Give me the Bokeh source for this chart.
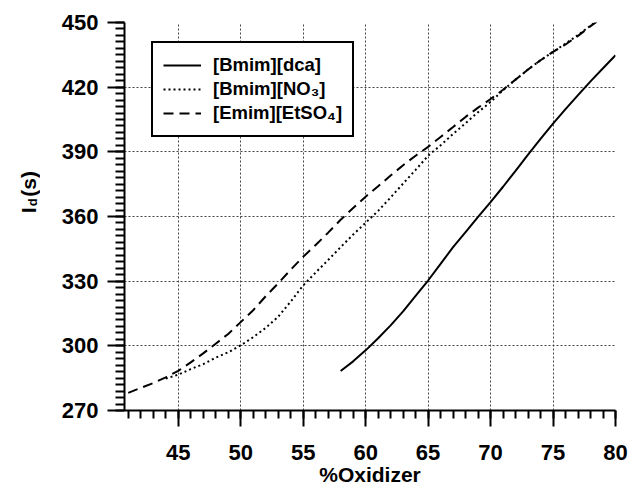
from math import pi
from bokeh.plotting import figure
from bokeh.models import Range1d, SingleIntervalTicker, Legend, LegendItem
from bokeh.layouts import row
from bokeh.core.properties import value
from bokeh.embed import file_html
from bokeh.resources import INLINE

# ---- data ----
x_dca = [58, 59, 60, 61, 62, 63, 64, 65, 66, 67, 68, 69, 70, 71, 72, 73, 74, 75, 76, 77, 78, 79, 80]
y_dca = [288.3, 292.8, 297.9, 303.5, 309.5, 316.0, 323.2, 330.3, 338.0, 345.8, 352.8, 359.8,
         366.7, 373.8, 381.2, 388.7, 396.0, 403.1, 409.8, 416.3, 422.7, 428.8, 434.8]

x_no3 = [44, 45, 46, 47, 48, 49, 50, 51, 52, 53, 54, 55, 56, 57, 58, 59, 60, 61, 62, 63, 64, 65,
         66, 67, 68, 69, 70, 71, 72, 73, 74, 75, 76, 77, 78, 78.5]
y_no3 = [284.8, 286.6, 289.2, 291.5, 294.5, 297.0, 300.2, 304.0, 308.3, 313.5, 320.5, 328.0,
         334.0, 339.8, 345.8, 351.6, 357.1, 362.6, 368.8, 375.3, 381.6, 388.2, 393.0, 398.3,
         403.3, 408.4, 413.1, 418.6, 423.5, 428.2, 432.5, 436.4, 440.2, 444.2, 448.5, 450.6]

x_et = [41, 42, 43, 44, 45, 46, 47, 48, 49, 50, 51, 52, 53, 54, 55, 56, 57, 58, 59, 60, 61, 62,
        63, 64, 65, 66, 67, 68, 69, 70, 71, 72, 73, 74, 75, 76, 77, 78, 78.5]
y_et = [278.2, 280.5, 282.7, 285.4, 288.4, 292.3, 296.5, 301.0, 305.5, 311.0, 316.5, 323.0,
        329.0, 335.3, 341.3, 346.8, 352.5, 358.5, 363.9, 369.2, 374.0, 379.0, 383.8, 388.2,
        392.3, 396.9, 401.5, 406.2, 410.5, 414.5, 418.8, 423.5, 428.2, 432.5, 436.4, 439.8,
        443.8, 448.3, 450.4]

labels = ["[Bmim][dca]", "[Bmim][NO\u2083]", "[Emim][EtSO\u2084]"]
x_title = "%Oxidizer"
y_title_parts = ["I", "d", "(s)"]

FONT = "Liberation Sans"
H = 492
LW = 40            # width of the narrow y-title strip
W = 629 - LW
X0, X1, Y0, Y1 = 40.7, 80, 270, 450

# ---- main plot ----
p = figure(width=W, height=H, output_backend="svg", toolbar_location=None,
           x_range=Range1d(X0, X1), y_range=Range1d(Y0, Y1),
           min_border_left=84, min_border_right=14, min_border_top=22, min_border_bottom=82)
p.outline_line_color = None
p.background_fill_color = "white"
p.border_fill_color = "white"

p.xaxis.ticker = SingleIntervalTicker(interval=5, num_minor_ticks=5)
p.yaxis.ticker = SingleIntervalTicker(interval=30, num_minor_ticks=10)

for ax in (p.xaxis[0], p.yaxis[0]):
    ax.axis_line_width = 2
    ax.axis_line_color = "black"
    ax.major_tick_line_width = 2
    ax.minor_tick_line_width = 2
    ax.major_tick_line_color = "black"
    ax.minor_tick_line_color = "black"
    ax.major_tick_in = 0
    ax.minor_tick_in = 0
    ax.major_label_text_font = FONT
    ax.major_label_text_font_style = "bold"
    ax.major_label_text_font_size = "22px"
    ax.major_label_text_color = "black"
p.xaxis.major_tick_out = 16
p.xaxis.minor_tick_out = 8
p.yaxis.major_tick_out = 17
p.yaxis.minor_tick_out = 9
p.xaxis.major_label_standoff = 18
p.yaxis.major_label_standoff = 9

p.xaxis.axis_label = x_title
p.xaxis.axis_label_text_font = FONT
p.xaxis.axis_label_text_font_style = "bold"
p.xaxis.axis_label_text_font_size = "21px"
p.xaxis.axis_label_text_color = "black"
p.xaxis.axis_label_standoff = 0

for g in (p.xgrid[0], p.ygrid[0]):
    g.grid_line_color = "#444444"
    g.grid_line_dash = "2 2"
    g.grid_line_width = 1

r_et = p.line(x_et, y_et, line_color="black", line_width=2, line_dash="10 6")
r_no3 = p.line(x_no3, y_no3, line_color="black", line_width=2, line_dash="2 3")
r_dca = p.line(x_dca, y_dca, line_color="black", line_width=2)

legend = Legend(items=[LegendItem(label=labels[0], renderers=[r_dca]),
                       LegendItem(label=labels[1], renderers=[r_no3]),
                       LegendItem(label=labels[2], renderers=[r_et])],
                location=(27, 273))
legend.label_text_font = FONT
legend.label_text_font_style = "bold"
legend.label_text_font_size = "18.5px"
legend.label_text_color = "black"
legend.border_line_color = "black"
legend.border_line_alpha = 1.0
legend.border_line_width = 2
legend.background_fill_color = "white"
legend.background_fill_alpha = 1
legend.spacing = 0
legend.label_height = 24
legend.glyph_height = 24
legend.glyph_width = 38
legend.label_standoff = 12
legend.padding = 10
legend.margin = 0
p.add_layout(legend)

# ---- narrow strip holding the rotated y title (I with subscript d) ----
t = figure(width=LW, height=H, output_backend="svg", toolbar_location=None,
           x_range=Range1d(0, LW), y_range=Range1d(0, H),
           x_axis_location=None, y_axis_location=None,
           min_border=0, min_border_left=0, min_border_right=0,
           min_border_top=0, min_border_bottom=0)
t.outline_line_color = None
t.xgrid.visible = False
t.ygrid.visible = False
t.border_fill_color = "white"
t.background_fill_color = "white"

common = dict(text_font=value(FONT), text_font_style="bold", text_color="black",
              angle=pi / 2, text_align="left", text_baseline="alphabetic")
t.text(x=[28], y=[H - 242], text=[y_title_parts[0]], text_font_size="21px", **common)
t.text(x=[32], y=[H - 233], text=[y_title_parts[1]], text_font_size="13px", **common)
t.text(x=[28], y=[H - 221], text=[y_title_parts[2]], text_font_size="21px", **common)

layout = row(t, p)
open("out.html", "w").write(file_html(layout, INLINE))
